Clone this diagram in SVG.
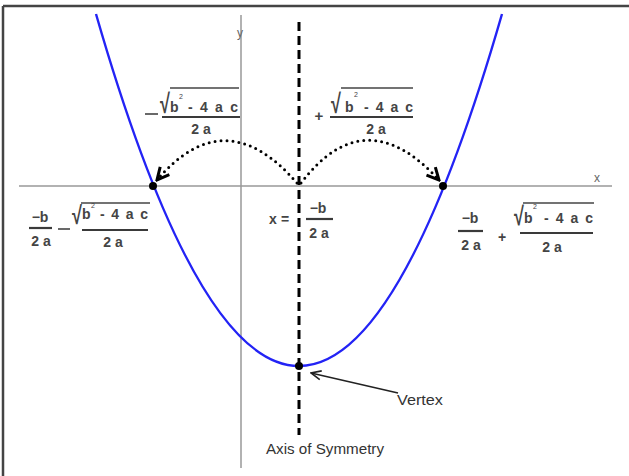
<svg xmlns="http://www.w3.org/2000/svg" width="629" height="476" viewBox="0 0 629 476">
<style>
  .t { font-family: "Liberation Sans", "DejaVu Sans", sans-serif; fill: #444; font-size: 14px; font-weight: bold; }
  .n { font-weight: normal; }
  .c { text-anchor: middle; }
  .rad { font-size: 18px; font-weight: bold; }
  .sup { font-size: 7px; font-weight: normal; }
  .bar { stroke: #3a3a3a; stroke-width: 2.2; }
  .ovl { stroke: #444; stroke-width: 1.4; }
  .axis { stroke: #999; stroke-width: 1.5; fill: none; }
  .dots { stroke: #000; stroke-width: 3; stroke-dasharray: 0 6; stroke-linecap: round; fill: none; }
</style>
<defs>
  <marker id="chev" viewBox="0 0 16 16" refX="14" refY="8" markerWidth="16" markerHeight="16" markerUnits="userSpaceOnUse" orient="auto">
    <path d="M2,2 L14,8 L2,14" fill="none" stroke="#000" stroke-width="3"/>
  </marker>
  <marker id="open" viewBox="0 0 12 12" refX="11" refY="6" markerWidth="12" markerHeight="12" markerUnits="userSpaceOnUse" orient="auto">
    <path d="M1,1.5 L11,6 L1,10.5" fill="none" stroke="#222" stroke-width="1.6"/>
  </marker>
</defs>
<rect width="629" height="476" fill="#fff"/>
<g id="frame">
  <line x1="3" y1="6" x2="629" y2="6" stroke="#444" stroke-width="2.5"/>
  <line x1="3" y1="6" x2="3" y2="476" stroke="#444" stroke-width="2.5"/>
</g>
<g id="axes">
  <line class="axis" x1="19" y1="186" x2="612" y2="186"/>
  <line class="axis" x1="241" y1="15" x2="241" y2="468"/>
  <text class="t n" x="237" y="37" style="font-size:12px;fill:#666">y</text>
  <text class="t n" x="594" y="182" style="font-size:12px;fill:#666">x</text>
</g>
<g id="axis-of-symmetry">
  <line x1="299" y1="22" x2="299" y2="435" stroke="#000" stroke-width="3" stroke-dasharray="9 5"/>
  <text class="t n" x="266" y="454" style="font-size:14px;fill:#333" textLength="118" lengthAdjust="spacingAndGlyphs">Axis of Symmetry</text>
</g>
<g id="parabola">
  <path d="M96,14 Q299,718 502,14" fill="none" stroke="#2323f5" stroke-width="2.4"/>
</g>
<g id="root-left"><circle cx="153" cy="186" r="4" fill="#000"/></g>
<g id="root-right"><circle cx="443" cy="186" r="4" fill="#000"/></g>
<g id="vertex"><circle cx="299" cy="366" r="4" fill="#000"/>
  <text class="t n" x="397" y="405" style="font-size:14px;fill:#333" textLength="46" lengthAdjust="spacingAndGlyphs">Vertex</text>
</g>
<g id="connectors">
  <path class="dots" d="M297,183 Q225,100 157,180" marker-end="url(#chev)"/>
  <path class="dots" d="M301,183 Q365,99 439,180" marker-end="url(#chev)"/>
  <line x1="398" y1="393" x2="311" y2="373" stroke="#222" stroke-width="1.6" marker-end="url(#open)"/>
</g>
<g id="label-top-left">
  <line x1="145" y1="114" x2="158" y2="114" stroke="#444" stroke-width="1.6"/>
  <text class="t rad" transform="translate(160,113) scale(1,1.5)">√</text>
  <line class="ovl" x1="170" y1="88" x2="239" y2="88"/>
  <text class="t" x="170" y="112">b</text>
  <text class="t sup" x="179" y="99">2</text>
  <text class="t" x="188" y="112" textLength="50">- 4 a c</text>
  <line class="bar" x1="162" y1="117" x2="240" y2="117"/>
  <text class="t c" x="201" y="134">2 a</text>
</g>
<g id="label-top-right">
  <text class="t c" x="319" y="121" style="font-size:15px">+</text>
  <text class="t rad" transform="translate(331,113) scale(1,1.5)">√</text>
  <line class="ovl" x1="341" y1="88" x2="413" y2="88"/>
  <text class="t" x="345" y="112">b</text>
  <text class="t sup" x="354" y="97">2</text>
  <text class="t" x="364" y="112" textLength="49">- 4 a c</text>
  <line class="bar" x1="330" y1="117" x2="413" y2="117"/>
  <text class="t c" x="376" y="134">2 a</text>
</g>
<g id="label-center">
  <text class="t" x="269" y="224">x</text>
  <text class="t" x="281" y="224">=</text>
  <text class="t c" x="318" y="213">−b</text>
  <line class="bar" x1="306" y1="219" x2="333" y2="219"/>
  <text class="t c" x="319" y="238">2 a</text>
</g>
<g id="label-bottom-left">
  <text class="t c" x="40" y="222">−b</text>
  <line class="bar" x1="29" y1="228" x2="52" y2="228"/>
  <text class="t c" x="41" y="246">2 a</text>
  <line x1="58" y1="229" x2="70" y2="229" stroke="#444" stroke-width="1.6"/>
  <text class="t rad" transform="translate(72,224) scale(1,1.4)">√</text>
  <line class="ovl" x1="81" y1="203" x2="150" y2="203"/>
  <text class="t" x="82" y="219">b</text>
  <text class="t sup" x="91" y="208">2</text>
  <text class="t" x="100" y="219" textLength="48">- 4 a c</text>
  <line class="bar" x1="82" y1="230" x2="148" y2="230"/>
  <text class="t c" x="113" y="247">2 a</text>
</g>
<g id="label-bottom-right">
  <text class="t c" x="470" y="223">−b</text>
  <line class="bar" x1="458" y1="231" x2="483" y2="231"/>
  <text class="t c" x="471" y="250">2 a</text>
  <text class="t c" x="502" y="242">+</text>
  <text class="t rad" transform="translate(514,225) scale(1,1.45)">√</text>
  <line class="ovl" x1="523" y1="203" x2="594" y2="203"/>
  <text class="t" x="524" y="223">b</text>
  <text class="t sup" x="533" y="209">2</text>
  <text class="t" x="544" y="223" textLength="49">- 4 a c</text>
  <line class="bar" x1="520" y1="233" x2="593" y2="233"/>
  <text class="t c" x="552" y="252">2 a</text>
</g>
</svg>
